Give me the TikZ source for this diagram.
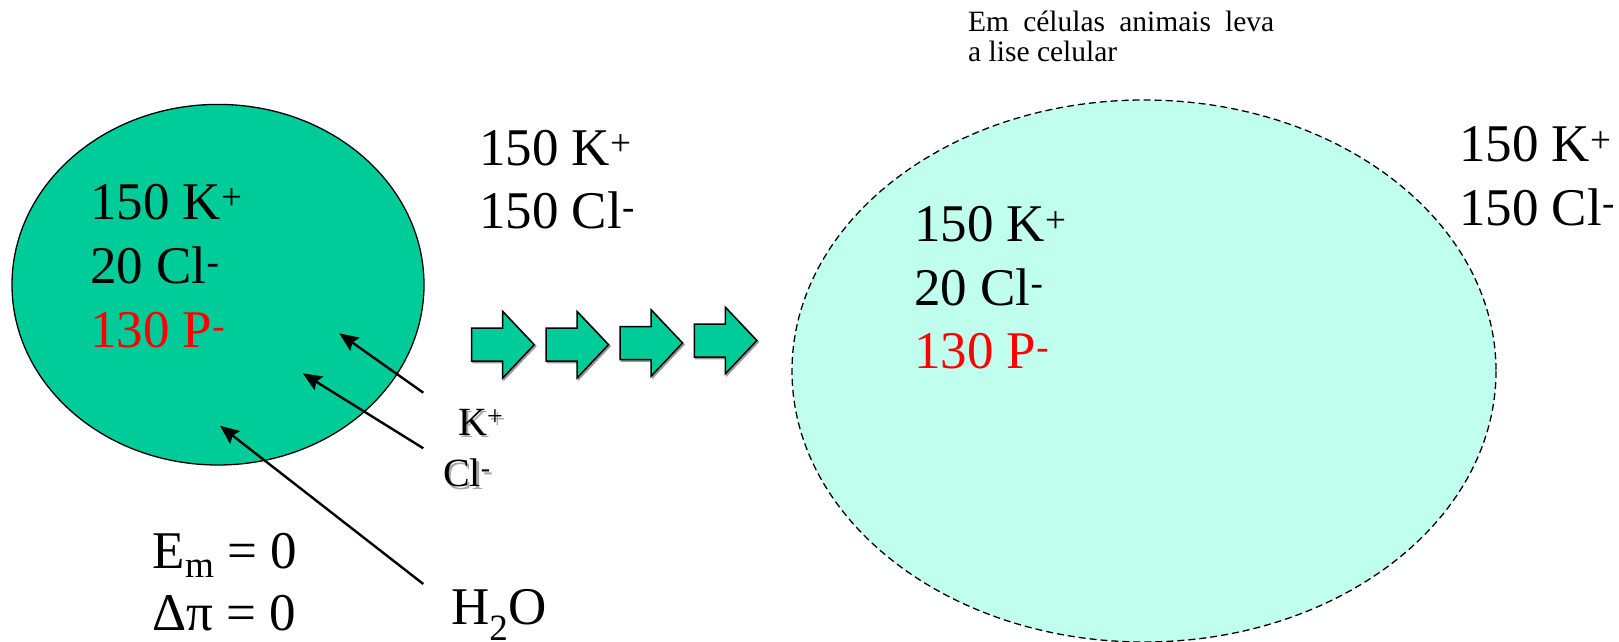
\documentclass[tikz,border=0pt]{standalone}
\usepackage{fontspec}
\setmainfont{Liberation Serif}
\usetikzlibrary{arrows.meta}
\definecolor{cellgreen}{RGB}{0,204,153}
\definecolor{celllight}{RGB}{192,255,238}
\definecolor{ionred}{RGB}{255,0,0}
\tikzset{
  big/.style={inner sep=0pt, anchor=base west, font=\fontsize{53}{60}\selectfont},
  small/.style={inner sep=0pt, anchor=base west, font=\fontsize{40}{46}\selectfont},
  note/.style={inner sep=0pt, anchor=base west, font=\fontsize{29.5}{33}\selectfont},
  pointer/.style={line width=2.4pt, -{Stealth[length=19pt,width=16pt,inset=3pt]}},
  txtshadow/.style={text=black!35},
  blockarrow/.pic={
    \draw[black!40, fill=black!40, line width=1.5pt, shift={(1.5,1.5)}]
      (0,-16.5) -- (31,-16.5) -- (31,-33.3) -- (62.5,0) -- (31,33.3) -- (31,16.5) -- (0,16.5) -- cycle;
    \draw[black, fill=cellgreen, line width=1.5pt, line join=miter]
      (0,-16.5) -- (31,-16.5) -- (31,-33.3) -- (62.5,0) -- (31,33.3) -- (31,16.5) -- (0,16.5) -- cycle;
  }
}
\begin{document}
\begin{tikzpicture}[x=1pt,y=-1pt]
\useasboundingbox[fill=white] (0,0) rectangle (1619,642);

% cells
\draw[fill=cellgreen, line width=1.3pt] (218,284.7) ellipse [x radius=206, y radius=180.3];
\draw[fill=celllight, line width=1.3pt, dash pattern=on 7pt off 4pt] (1144,371) ellipse [x radius=352, y radius=271];

% top note
\node[note] (note1) at (968,31.7) {\makebox[306pt][s]{Em células animais leva}};
\node[note] (note2) at (968,61.7) {a lise celular};

% left cell contents
\node[big] (inK) at (90,219) {150 K\textsuperscript{+}};
\node[big] (inCl) at (90,283.3) {20 Cl\textsuperscript{-}};
\node[big, text=ionred] (inP) at (90,347.3) {130 P\textsuperscript{-}};

% outside left
\node[big] (outK) at (479,165) {150 K\textsuperscript{+}};
\node[big] (outCl) at (479,228.3) {150 Cl\textsuperscript{-}};

% right cell contents
\node[big] (rK) at (914,241.7) {150 K\textsuperscript{+}};
\node[big] (rCl) at (914,305) {20 Cl\textsuperscript{-}};
\node[big, text=ionred] (rP) at (914,368.3) {130 P\textsuperscript{-}};

% outside right
\node[big] (roK) at (1459,161.7) {150 K\textsuperscript{+}};
\node[big] (roCl) at (1459,225) {150 Cl\textsuperscript{-}};

% equilibrium
\node[big] (em) at (152.5,568.3) {E\textsubscript{m} = 0};
\node[big] (dpi) at (152.5,630) {Δπ = 0};

% labels
\node[small, txtshadow] (kshadow) at (460.5,437.5) {K\textsuperscript{+}};
\node[small] (klab) at (458,435) {K\textsuperscript{+}};
\node[small, txtshadow] (clshadow) at (445.5,489.2) {Cl\textsuperscript{-}};
\node[small] (cllab) at (443,486.7) {Cl\textsuperscript{-}};
\node[big] (water) at (451,624) {H\textsubscript{2}O};

% thin arrows
\coordinate (kstart) at (423.3,392.7);
\coordinate (kend) at (339.3,333.3);
\coordinate (clstart) at (423.3,448.3);
\coordinate (clend) at (302.7,373.3);
\coordinate (wstart) at (423.3,584);
\coordinate (wend) at (220,425.7);
\draw[pointer] (kstart) -- (kend);
\draw[pointer] (clstart) -- (clend);
\draw[pointer] (wstart) -- (wend);

% block arrows
\pic at (471.7,344.7) {blockarrow};
\pic at (546,344.7) {blockarrow};
\pic at (620,343) {blockarrow};
\pic at (694.3,340.5) {blockarrow};
\end{tikzpicture}
\end{document}
